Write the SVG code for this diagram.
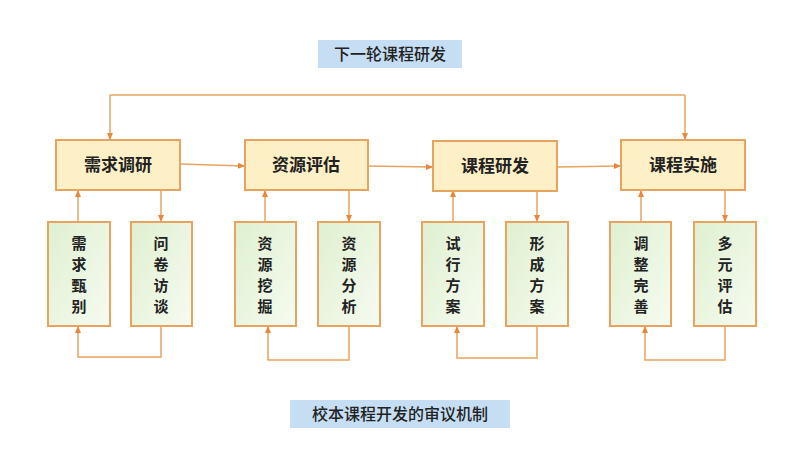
<svg xmlns="http://www.w3.org/2000/svg" width="800" height="473" viewBox="0 0 800 473">
<style>
text{font-family:"Noto Sans CJK SC",sans-serif;fill:#222}
.t{fill:#fdefc6;stroke:#e8a45e;stroke-width:2}
.s{fill:url(#g);stroke:#e8a45e;stroke-width:2}
.c{fill:none;stroke:#e8a45e;stroke-width:1.5;marker-end:url(#a)}
.tt{font-size:17px;font-weight:bold;text-anchor:middle}
.st{font-size:15px;font-weight:bold;text-anchor:middle}
.lb{fill:#c5def3}
.lt{font-size:16px;font-weight:500;text-anchor:middle}
</style>
<defs>
<linearGradient id="g" x1="0" y1="0" x2="1" y2="1"><stop offset="0" stop-color="#dff0d0"/><stop offset="1" stop-color="#f6fbf0"/></linearGradient>
<marker id="a" markerWidth="8" markerHeight="8" refX="6" refY="4" orient="auto" markerUnits="userSpaceOnUse"><path d="M0,1 L7,4 L0,7 z" fill="#e8863a"/></marker>
</defs>
<rect x="0" y="0" width="800" height="473" fill="#fff"/>
<g id="label-top"><rect class="lb" x="318" y="40" width="144" height="28"/><text class="lt" x="390" y="60">下一轮课程研发</text></g>
<g id="connectors">
<path class="c" d="M685,95 L110,95" style="marker-end:none"/>
<path class="c" d="M110,95 L110,139"/><path class="c" d="M685,95 L685,139"/>
<path class="c" d="M180,164 L244,166"/><path class="c" d="M368,166 L432,167"/><path class="c" d="M557,167 L620,166"/>
<path class="c" d="M78,222 L78,191"/><path class="c" d="M161,190 L161,221"/><path class="c" d="M161,326 L161,357 L78,357 L78,327"/>
<path class="c" d="M265,222 L265,191"/><path class="c" d="M349,190 L349,221"/><path class="c" d="M349,326 L349,360 L268,360 L268,327"/>
<path class="c" d="M453,222 L453,191"/><path class="c" d="M537,190 L537,221"/><path class="c" d="M537,326 L537,358 L457,358 L457,327"/>
<path class="c" d="M641,222 L641,191"/><path class="c" d="M725,190 L725,221"/><path class="c" d="M725,326 L725,360 L645,360 L645,327"/>
</g>
<g id="n1"><rect class="t" x="56" y="140" width="124" height="50"/><text class="tt" x="118" y="171">需求调研</text></g>
<g id="n2"><rect class="t" x="245" y="140" width="123" height="50"/><text class="tt" x="306" y="171">资源评估</text></g>
<g id="n3"><rect class="t" x="433" y="141" width="124" height="50"/><text class="tt" x="495" y="172">课程研发</text></g>
<g id="n4"><rect class="t" x="621" y="140" width="124" height="50"/><text class="tt" x="683" y="171">课程实施</text></g>
<g id="s1"><rect class="s" x="48" y="222" width="62" height="104"/><text class="st" x="79" y="249">需</text><text class="st" x="79" y="270">求</text><text class="st" x="79" y="291">甄</text><text class="st" x="79" y="312">别</text></g>
<g id="s2"><rect class="s" x="131" y="222" width="61" height="104"/><text class="st" x="161" y="249">问</text><text class="st" x="161" y="270">卷</text><text class="st" x="161" y="291">访</text><text class="st" x="161" y="312">谈</text></g>
<g id="s3"><rect class="s" x="235" y="222" width="61" height="104"/><text class="st" x="265" y="249">资</text><text class="st" x="265" y="270">源</text><text class="st" x="265" y="291">挖</text><text class="st" x="265" y="312">掘</text></g>
<g id="s4"><rect class="s" x="318" y="222" width="62" height="104"/><text class="st" x="349" y="249">资</text><text class="st" x="349" y="270">源</text><text class="st" x="349" y="291">分</text><text class="st" x="349" y="312">析</text></g>
<g id="s5"><rect class="s" x="422" y="222" width="62" height="104"/><text class="st" x="453" y="249">试</text><text class="st" x="453" y="270">行</text><text class="st" x="453" y="291">方</text><text class="st" x="453" y="312">案</text></g>
<g id="s6"><rect class="s" x="506" y="222" width="62" height="104"/><text class="st" x="537" y="249">形</text><text class="st" x="537" y="270">成</text><text class="st" x="537" y="291">方</text><text class="st" x="537" y="312">案</text></g>
<g id="s7"><rect class="s" x="610" y="222" width="61" height="104"/><text class="st" x="641" y="249">调</text><text class="st" x="641" y="270">整</text><text class="st" x="641" y="291">完</text><text class="st" x="641" y="312">善</text></g>
<g id="s8"><rect class="s" x="694" y="222" width="62" height="104"/><text class="st" x="725" y="249">多</text><text class="st" x="725" y="270">元</text><text class="st" x="725" y="291">评</text><text class="st" x="725" y="312">估</text></g>
<g id="label-bottom"><rect class="lb" x="290" y="400" width="220" height="28"/><text class="lt" x="400" y="420">校本课程开发的审议机制</text></g>
</svg>
